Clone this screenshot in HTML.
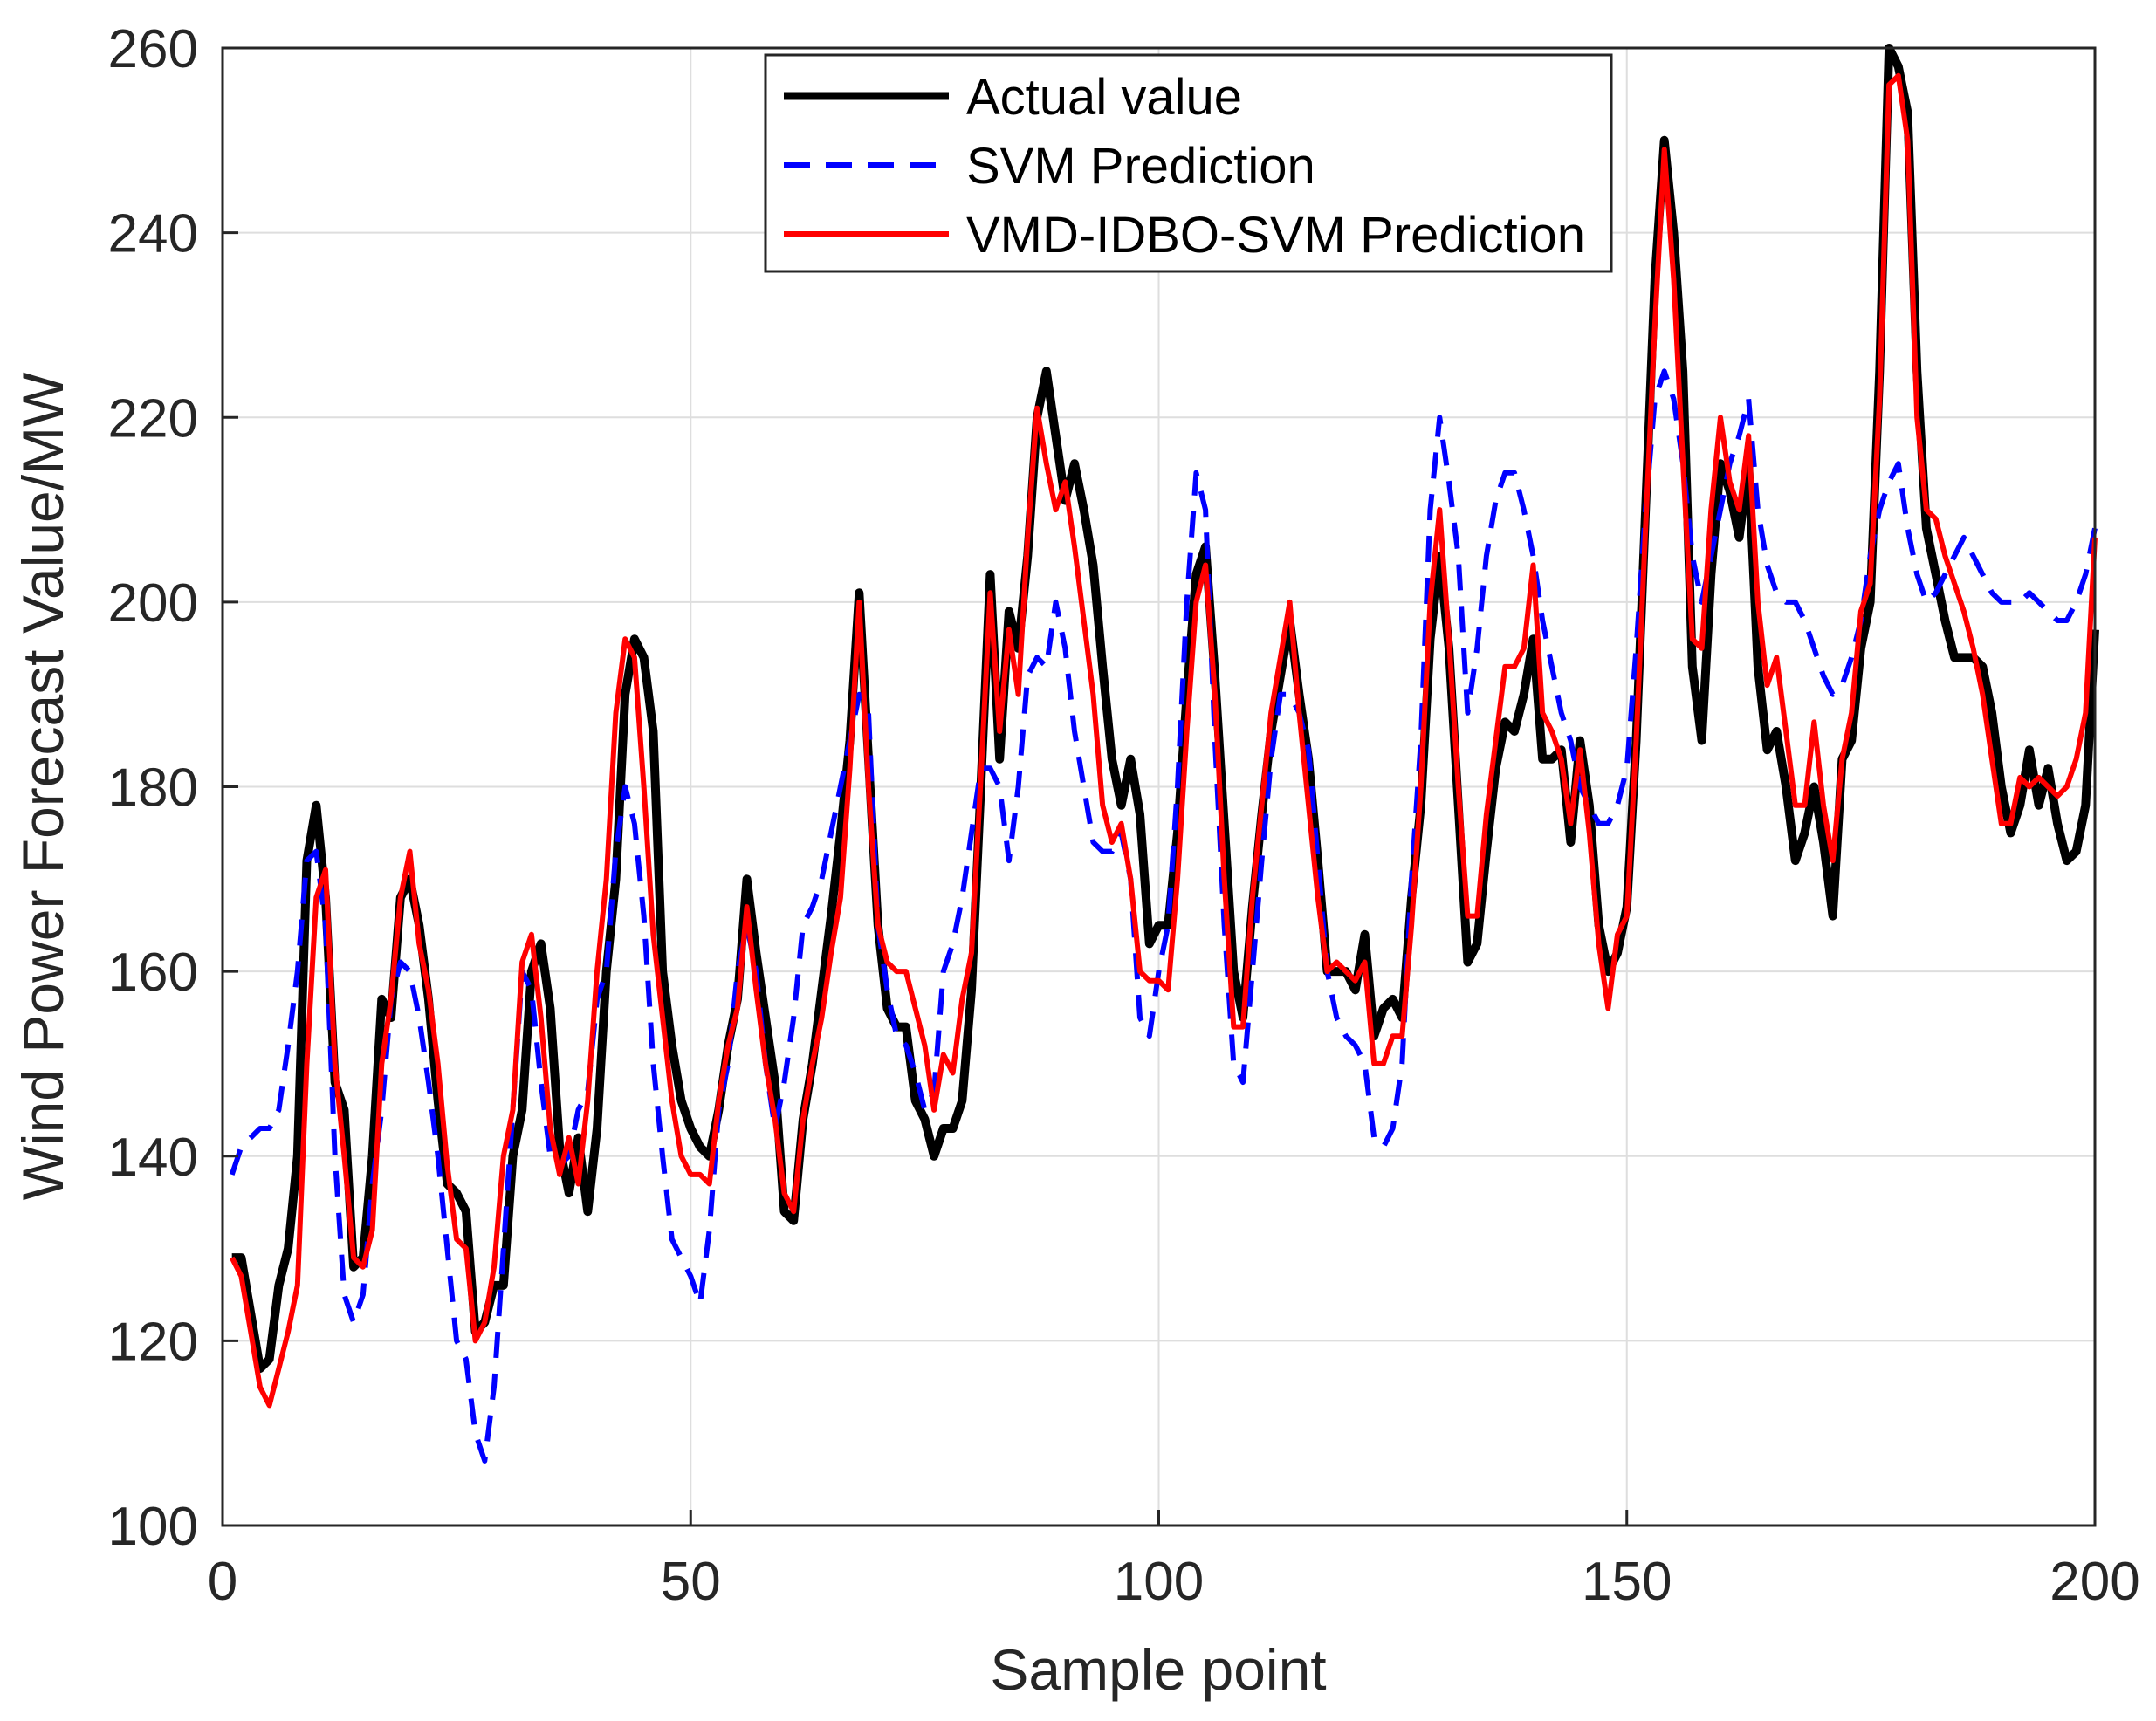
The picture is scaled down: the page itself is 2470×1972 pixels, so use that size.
<!DOCTYPE html>
<html><head><meta charset="utf-8"><style>
html,body{margin:0;padding:0;background:#fff;}
svg{display:block;font-family:"Liberation Sans",Arial,sans-serif;}
</style></head><body>
<svg id="chart" width="2470" height="1972" xmlns="http://www.w3.org/2000/svg">
<rect width="2470" height="1972" fill="#fff"/>
<g id="grid"></g>
<g id="series"></g>
<g id="axes"></g>
<text transform="translate(72,901) rotate(-90)" text-anchor="middle" font-size="66" fill="#262626">Wind Power Forecast Value/MW</text>
<text x="1327" y="1936" text-anchor="middle" font-size="66" fill="#262626">Sample point</text>
<g>
<rect x="877" y="63" width="969" height="248" fill="#fff" stroke="#262626" stroke-width="3"/>
<line x1="898" y1="110" x2="1087" y2="110" stroke="#000" stroke-width="9"/>
<text x="1107" y="131" font-size="58" fill="#000">Actual value</text>
<line x1="898" y1="189" x2="1087" y2="189" stroke="#0000ff" stroke-width="6" stroke-dasharray="30,18"/>
<text x="1107" y="210" font-size="58" fill="#000">SVM Prediction</text>
<line x1="898" y1="268" x2="1087" y2="268" stroke="#ff0000" stroke-width="6"/>
<text x="1107" y="289" font-size="58" fill="#000">VMD-IDBO-SVM Prediction</text>
</g>
</svg>
<script>
const xTicks=[0,50,100,150,200];
const yTicks=[100,120,140,160,180,200,220,240,260];
const actual=[129,129,123,117,118,126,130,140,172,178,168,148,145,128,129,140,157,155,168,170,165,157,146,137,136,134,121,122,126,126,140,145,160,163,156,141,136,142,134,143,160,170,190,196,194,186,160,152,146,143,141,140,145,152,157,170,162,155,148,134,133,144,150,158,166,175,185,201,183,165,156,154,154,146,144,140,143,143,146,158,180,203,183,199,195,205,220,225,218,211,215,210,204,193,183,178,183,177,163,165,165,175,190,203,206,192,176,160,155,167,177,186,192,198,190,183,172,160,160,160,158,164,153,156,157,155,168,178,196,205,195,178,161,163,173,182,187,186,190,196,183,183,184,174,185,178,165,160,162,167,185,210,235,250,240,225,193,185,203,215,212,207,215,193,184,186,180,172,175,180,174,166,183,185,195,200,225,260,258,253,225,208,203,198,194,194,194,193,188,180,175,178,184,178,182,176,172,173,178,197];
const vmd=[129,127,121,115,113,117,121,126,150,168,171,150,140,129,128,132,150,157,168,173,163,158,150,139,131,130,120,122,128,140,145,161,164,155,143,138,142,137,146,160,170,188,196,194,180,164,155,146,140,138,138,137,146,152,156,167,158,150,144,136,134,144,150,155,162,168,182,200,180,165,161,160,160,156,152,145,151,149,157,162,181,201,186,197,190,207,221,215,210,213,206,198,190,178,174,176,170,160,159,159,158,170,186,200,204,190,170,154,154,168,178,188,194,200,188,178,168,160,161,160,159,161,150,150,153,153,165,180,200,210,196,180,166,166,177,185,193,193,195,204,188,186,183,176,184,175,163,156,164,166,185,208,230,249,235,215,196,195,210,220,213,210,218,200,191,194,186,178,178,187,178,172,183,188,199,202,222,256,257,250,220,210,209,205,202,199,195,190,183,176,176,181,180,181,180,179,180,183,188,207];
const svm=[138,141,142,143,143,145,152,160,172,173,165,140,125,122,125,137,145,157,161,160,155,148,140,130,120,118,110,107,115,130,145,160,158,148,140,139,140,145,147,157,160,173,180,176,166,150,140,131,129,127,124,132,145,150,160,165,160,150,143,148,155,165,167,170,175,180,185,190,188,165,158,153,152,149,145,147,160,163,168,175,182,182,180,172,180,192,194,193,200,195,186,180,174,173,173,175,170,155,153,160,165,180,200,214,210,185,165,150,148,160,172,183,190,190,188,184,172,160,155,153,152,150,142,141,143,150,170,185,210,220,213,205,188,195,205,211,214,214,210,205,198,193,188,185,180,178,176,176,178,182,195,210,222,225,222,215,205,200,205,210,215,218,222,210,204,201,200,200,198,195,192,190,191,194,198,205,210,213,215,208,203,200,201,203,205,207,205,203,201,200,200,200,201,200,199,198,198,200,203,208];

const X0=255,X1=2400,Y0=1748,Y1=55;
function sx(v){return X0+(v-0)/(200-0)*(X1-X0);}
function sy(v){return Y0-(v-100)/(260-100)*(Y0-Y1);}
const NS="http://www.w3.org/2000/svg";
function mk(tag,attrs,parent){const e=document.createElementNS(NS,tag);for(const k in attrs)e.setAttribute(k,attrs[k]);parent.appendChild(e);return e;}
const grid=document.getElementById('grid'),axes=document.getElementById('axes'),series=document.getElementById('series');
xTicks.forEach(t=>{
  const g=mk('line',{x1:sx(t),x2:sx(t),y1:Y1,y2:Y0,stroke:'#dedede','stroke-width':2},grid);
  
  
  const tk=mk('line',{x1:sx(t),x2:sx(t),y1:Y0,y2:Y0-18,stroke:'#262626','stroke-width':3},axes);
  
  
  const tx=mk('text',{x:sx(t),y:Y0+85,'text-anchor':'middle','font-size':62,fill:'#262626'},axes);
  tx.textContent=t;
  
  
});
yTicks.forEach(t=>{
  const g=mk('line',{x1:X0,x2:X1,y1:sy(t),y2:sy(t),stroke:'#dedede','stroke-width':2},grid);
  
  
  const tk=mk('line',{x1:X0,x2:X0+18,y1:sy(t),y2:sy(t),stroke:'#262626','stroke-width':3},axes);
  
  
  const tx=mk('text',{x:X0-28,y:sy(t)+22,'text-anchor':'end','font-size':62,fill:'#262626'},axes);
  tx.textContent=t;
  
  
});
const frame=mk('rect',{x:X0,y:Y1,width:X1-X0,height:Y0-Y1,fill:'none',stroke:'#262626','stroke-width':3},axes);


function pts(arr){return arr.map((v,i)=>sx(i+1).toFixed(1)+','+sy(v).toFixed(1)).join(' ');}
const la=mk('polyline',{points:pts(actual),fill:'none',stroke:'#000','stroke-width':10,'stroke-linejoin':'round'},series);


const ls=mk('polyline',{points:pts(svm),fill:'none',stroke:'#0000ff','stroke-width':6,'stroke-dasharray':'30,18','stroke-linejoin':'round'},series);


const lv=mk('polyline',{points:pts(vmd),fill:'none',stroke:'#ff0000','stroke-width':6,'stroke-linejoin':'round'},series);


</script>
</body></html>
